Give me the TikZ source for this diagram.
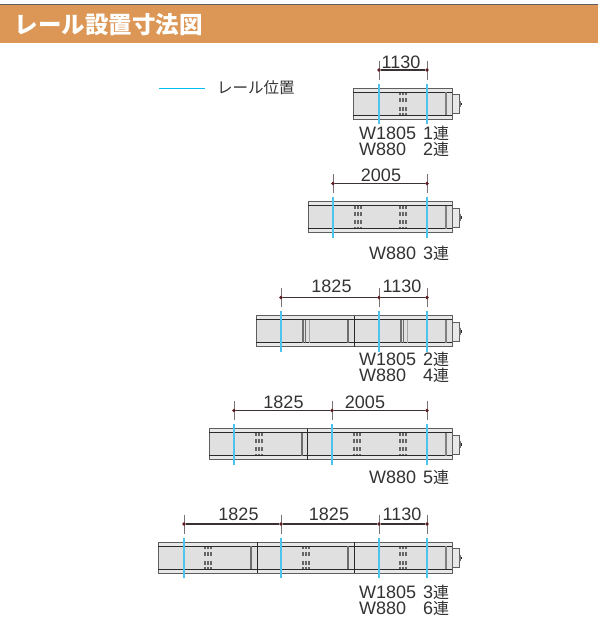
\documentclass[tikz,border=0pt]{standalone}
\usepackage{fontspec}
\setmainfont{Liberation Sans}
\newfontfamily\cjk{Noto Sans CJK JP}
\newcommand{\numfont}{\fontsize{18}{18}\selectfont}
\newcommand{\ren}{{\cjk\fontsize{16}{16}\selectfont 連}}
\definecolor{headbg}{HTML}{DC9756}
\definecolor{railc}{HTML}{4CC4EE}
\definecolor{legc}{HTML}{00BDF2}
\definecolor{bodyc}{HTML}{E0E0E0}
\definecolor{lipc}{HTML}{E8E8E8}
\definecolor{framec}{HTML}{2A2A2A}
\definecolor{edgec}{HTML}{5E5E5E}
\definecolor{bandc}{HTML}{6E6E6E}
\definecolor{dimc}{HTML}{3A3232}
\definecolor{tickc}{HTML}{7A7272}
\definecolor{dotc}{HTML}{5A1E22}
\definecolor{txtc}{HTML}{333333}
\tikzset{
  rail/.style={draw=railc,line width=1.9pt},
  dimline/.style={draw=dimc,line width=1.4pt},
  dimtick/.style={draw=tickc,line width=1pt},
  dimdot/.style={circle,fill=dotc,inner sep=0pt,minimum size=3.8pt},
  numlabel/.style={inner sep=0pt,anchor=base,text=txtc,font=\numfont},
  spec/.style={inner sep=0pt,anchor=base west,text=txtc,font=\numfont},
}
% box(left,right,top)
\newcommand{\railbox}[3]{%
  \fill[bodyc] (#1,#3) rectangle (#2,#3+31);
  \fill[lipc] (#1,#3) rectangle (#2,#3+4);
  \fill[lipc] (#1,#3+27) rectangle (#2,#3+31);
  \draw[edgec,line width=1pt] (#1,#3) rectangle (#2,#3+31);
  \draw[framec,line width=.9pt] (#1,#3+4) -- (#2,#3+4);
  \draw[framec,line width=.9pt] (#1,#3+27) -- (#2,#3+27);
  \fill[lipc] (452,#3+6.5) rectangle (459,#3+25.5);
  \draw[edgec,line width=1pt] (452,#3+6.5) rectangle (459,#3+25.5);
  \fill[bandc] (459,#3+12.5) rectangle (461,#3+19);
  \fill[framec] (461,#3+14.5) rectangle (462.2,#3+17);
  \fill[black!50] (444.6,#3+4) rectangle (447,#3+27);
}
\newcommand{\divider}[2]{\draw[framec,line width=1pt] (#1,#2) -- (#1,#2+31);}
\newcommand{\band}[2]{\fill[bandc] (#1-1,#2+4) rectangle (#1+1,#2+27);}
\newcommand{\dblband}[2]{%
  \fill[bandc] (#1-2.5,#2+4) rectangle (#1-0.3,#2+27);
  \fill[bandc] (#1+0.5,#2+4) rectangle (#1+1.9,#2+27);
  \fill[black!35] (#1+4.6,#2+4) rectangle (#1+5.3,#2+27);}
\newcommand{\vents}[2]{%
  \foreach \vy/\vh in {5.8/1.2,12.3/2,20.5/2,26/0.9}
    \foreach \vx in {-3,0,3}
      \fill[black!60] (#1+\vx-0.8,#2+\vy-\vh) rectangle (#1+\vx+0.8,#2+\vy+\vh);}
% mark(name,x,boxtop): rail, tick and dot
\newcommand{\railmark}[3]{%
  \coordinate (#1rt) at (#2,#3-4.5);
  \coordinate (#1rb) at (#2,#3+36);
  \coordinate (#1tt) at (#2,#3-27.5);
  \coordinate (#1tb) at (#2,#3-8.5);
  \draw[rail] (#1rt) -- (#1rb);
  \draw[dimtick] (#1tt) -- (#1tb);
  \node[dimdot] (#1d) at (#2,#3-18) {};
}
% dimspan(from,to,label,label x,baseline y)
\newcommand{\dimspan}[5]{%
  \draw[dimline] (#1d) -- (#2d);
  \node[numlabel] (#1#2l) at (#4,#5) {#3};
}
\newcommand{\spectext}[4]{% name,x,baseline y,text
  \node[spec] (#1) at (#2,#3) {#4};}
\begin{document}
\begin{tikzpicture}[x=1pt,y=-1pt]
\useasboundingbox (0,0) rectangle (598,621);
\fill[white] (0,0) rectangle (598,621);
% header
\fill[headbg] (0,5) rectangle (598,43);
\draw[edgec,line width=1pt] (0,4.5) -- (598,4.5);
\node[inner sep=0pt,anchor=base west,text=white,font=\fontsize{23.5}{23.5}\selectfont\cjk\bfseries] (title) at (14.5,33) {レール設置寸法図};
% legend
\coordinate (lega) at (159,88.5);
\coordinate (legb) at (205,88.5);
\draw[legc,line width=1pt] (lega) -- (legb);
\node[inner sep=0pt,anchor=west,text=txtc,font=\fontsize{15.5}{15.5}\selectfont\cjk] (legt) at (217,88) {レール位置};
% row 1
\railbox{353}{452}{88}
\vents{403}{88}
\railmark{aA}{379}{88}\railmark{aB}{427}{88}
\dimspan{aA}{aB}{1130}{401}{68}
\spectext{a1}{359}{139.5}{W1805}\spectext{a2}{423}{139.5}{1\ren}
\spectext{a3}{359}{155.5}{W880}\spectext{a4}{423}{155.5}{2\ren}
% row 2
\railbox{308}{452}{201.5}
\vents{358}{201.5}\vents{403}{201.5}
\railmark{bA}{333}{201.5}\railmark{bB}{427}{201.5}
\dimspan{bA}{bB}{2005}{381}{181}
\spectext{b3}{369}{259}{W880}\spectext{b4}{423}{259}{3\ren}
% row 3
\railbox{256}{452}{315.5}
\divider{354}{315.5}
\dblband{304.5}{315.5}\band{347.5}{315.5}\dblband{402}{315.5}
\railmark{cA}{281}{315.5}\railmark{cB}{379}{315.5}\railmark{cC}{427}{315.5}
\dimspan{cA}{cB}{1825}{331.5}{292.5}\dimspan{cB}{cC}{1130}{402}{292.5}
\spectext{c1}{359}{365.5}{W1805}\spectext{c2}{423}{365.5}{2\ren}
\spectext{c3}{359}{381.5}{W880}\spectext{c4}{423}{381.5}{4\ren}
% row 4
\railbox{209}{452}{428.5}
\divider{307.5}{428.5}
\band{301.5}{428.5}
\vents{259}{428.5}\vents{357}{428.5}\vents{403}{428.5}
\railmark{dA}{234}{428.5}\railmark{dB}{332}{428.5}\railmark{dC}{427}{428.5}
\dimspan{dA}{dB}{1825}{283.5}{408}\dimspan{dB}{dC}{2005}{365}{408}
\spectext{d3}{369}{483}{W880}\spectext{d4}{423}{483}{5\ren}
% row 5
\railbox{158}{452}{542}
\divider{257}{542}\divider{354}{542}
\band{251}{542}\band{348}{542}
\vents{208}{542}\vents{306}{542}\vents{403}{542}
\railmark{eA}{184}{542}\railmark{eB}{281}{542}\railmark{eC}{379}{542}\railmark{eD}{427}{542}
\dimspan{eA}{eB}{1825}{238.5}{520}\dimspan{eB}{eC}{1825}{329}{520}\dimspan{eC}{eD}{1130}{402}{520}
\spectext{e1}{359}{598}{W1805}\spectext{e2}{423}{598}{3\ren}
\spectext{e3}{359}{614}{W880}\spectext{e4}{423}{614}{6\ren}
\end{tikzpicture}
\end{document}
